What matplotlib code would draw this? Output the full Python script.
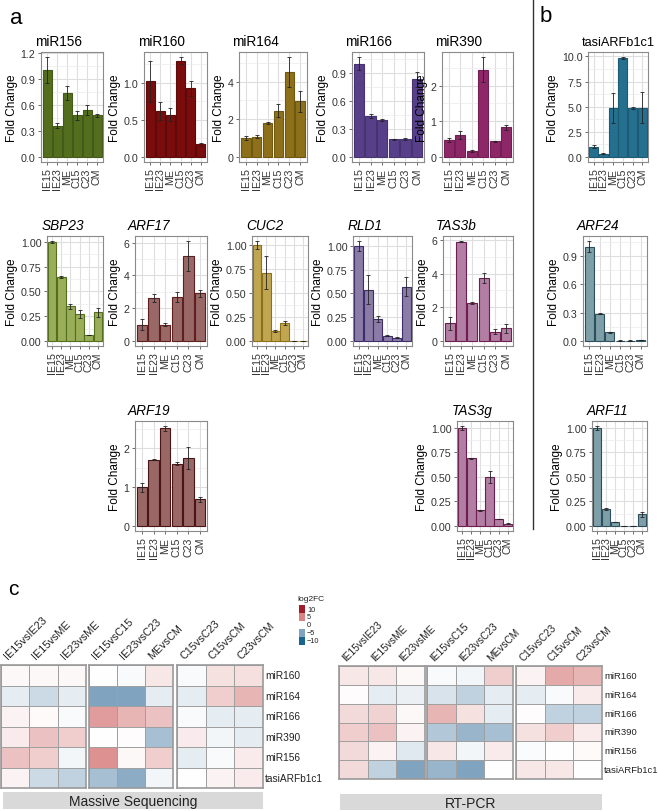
import numpy as np
import matplotlib
matplotlib.use('Agg')
import matplotlib.pyplot as plt
from matplotlib.colors import LinearSegmentedColormap, Normalize
from matplotlib.patches import Rectangle

plt.rcParams['font.family'] = ['Liberation Sans', 'DejaVu Sans']

W, H = 658, 812

# ---- panel a/b data: fold change (mean, error) per sample ----
samples = ['IE15', 'IE23', 'ME', 'C15', 'C23', 'CM']

mir156 = [1.00, 0.36, 0.74, 0.48, 0.54, 0.48]
mir156_err = [0.15, 0.03, 0.08, 0.05, 0.06, 0.02]
mir160 = [1.02, 0.62, 0.57, 1.30, 0.93, 0.17]
mir160_err = [0.28, 0.12, 0.09, 0.05, 0.10, 0.02]
mir164 = [1.00, 1.08, 1.80, 2.45, 4.50, 2.95]
mir164_err = [0.12, 0.06, 0.07, 0.35, 0.80, 0.55]
mir166 = [1.00, 0.44, 0.40, 0.19, 0.19, 0.83]
mir166_err = [0.07, 0.02, 0.01, 0.005, 0.01, 0.08]
mir390 = [0.48, 0.62, 0.17, 2.45, 0.44, 0.83]
mir390_err = [0.05, 0.12, 0.03, 0.35, 0.02, 0.08]
tasi = [1.00, 0.30, 4.90, 9.85, 4.90, 4.90]
tasi_err = [0.15, 0.05, 1.50, 0.10, 0.10, 1.55]
sbp23 = [1.00, 0.65, 0.35, 0.27, 0.06, 0.29]
sbp23_err = [0.01, 0.01, 0.025, 0.04, 0.003, 0.045]
arf17 = [1.00, 2.60, 1.00, 2.70, 5.20, 2.90]
arf17_err = [0.35, 0.25, 0.07, 0.30, 0.90, 0.20]
cuc2 = [1.00, 0.71, 0.10, 0.19, 0.004, 0.003]
cuc2_err = [0.04, 0.17, 0.01, 0.02, 0.001, 0.001]
rld1 = [1.00, 0.54, 0.23, 0.055, 0.035, 0.57]
rld1_err = [0.05, 0.15, 0.03, 0.005, 0.005, 0.10]
tas3b = [1.05, 5.90, 2.25, 3.75, 0.55, 0.75]
tas3b_err = [0.40, 0.03, 0.08, 0.30, 0.15, 0.25]
arf24 = [1.00, 0.29, 0.095, 0.005, 0.005, 0.01]
arf24_err = [0.06, 0.005, 0.005, 0.001, 0.001, 0.002]
arf19 = [1.00, 1.71, 2.52, 1.61, 1.76, 0.69]
arf19_err = [0.12, 0.02, 0.06, 0.04, 0.28, 0.07]
tas3g = [1.00, 0.69, 0.16, 0.50, 0.07, 0.025]
tas3g_err = [0.02, 0.003, 0.005, 0.06, 0.003, 0.005]
arf11 = [1.00, 0.17, 0.04, 0.003, 0.003, 0.12]
arf11_err = [0.02, 0.01, 0.002, 0.001, 0.001, 0.025]

# ---- panel c data: log2FC ----
comparisons = ['IE15vsIE23', 'IE15vsME', 'IE23vsME', 'IE15vsC15', 'IE23vsC23',
               'MEvsCM', 'C15vsC23', 'C15vsCM', 'C23vsCM']
small_rnas = ['miR160', 'miR164', 'miR166', 'miR390', 'miR156', 'tasiARFb1c1']
seq_fc = [
    [0.3, 0.3, 0.3, 0.0, -0.3, 1.0, -0.3, 1.2, 1.3],
    [-1.0, -2.0, -1.0, -5.0, -5.0, -1.0, -1.0, 2.0, 3.0],
    [0.5, 0.2, -0.3, 4.0, 3.0, 2.5, -0.3, -1.0, -1.0],
    [0.8, 2.5, 2.0, 0.0, 0.1, -3.5, 0.8, -0.5, -1.0],
    [2.5, 2.0, -0.5, 4.5, 0.3, 2.0, -1.0, -0.3, 0.8],
    [0.5, -2.0, -2.5, -3.5, -4.5, -0.5, 0.0, 0.5, 0.8],
]
pcr_fc = [
    [1.0, 1.0, 0.3, -0.3, -0.5, 2.0, 0.5, 3.5, 3.0],
    [0.1, -1.0, -0.8, -1.5, -2.5, -1.0, -1.0, -0.3, 0.8],
    [1.5, 1.8, 0.3, 3.0, 1.2, -1.0, 0.1, -2.5, -2.5],
    [2.0, 2.5, 0.5, -3.0, -4.0, -3.5, 1.2, 2.0, 0.8],
    [1.5, 0.5, -1.2, 1.0, -0.5, 0.8, -0.2, 0.0, 0.2],
    [1.5, -2.5, -5.0, -4.0, -5.0, 0.0, 1.0, 1.0, 0.0],
]
legend_vals = [10, 5, 0, -5, -10]


def px(x0, y0, x1, y1):
    return [x0 / W, 1 - y1 / H, (x1 - x0) / W, (y1 - y0) / H]


fig = plt.figure(figsize=(W / 100, H / 100), dpi=100)

# name, values, err, fill, edge, italic, box(px), tick step, label format
panels = [
    ('miR156', mir156, mir156_err, '#536f1e', '#44591a', False, (41, 53, 103, 163), 0.3, '%.1f'),
    ('miR160', mir160, mir160_err, '#7a0c0c', '#5e0a0a', False, (144, 53, 207, 163), 0.5, '%.1f'),
    ('miR164', mir164, mir164_err, '#8d7019', '#6f5812', False, (239, 53, 307, 163), 2, '%d'),
    ('miR166', mir166, mir166_err, '#574089', '#46336f', False, (352, 53, 424, 163), 0.3, '%.1f'),
    ('miR390', mir390, mir390_err, '#8e2768', '#721f53', False, (442, 53, 513, 163), 1, '%d'),
    ('tasiARFb1c1', tasi, tasi_err, '#25708f', '#1d5a73', False, (588, 53, 648, 163), 2.5, '%.1f'),
    ('SBP23', sbp23, sbp23_err, '#9aae5a', '#536f1e', True, (47, 237, 103, 347), 0.25, '%.2f'),
    ('ARF17', arf17, arf17_err, '#9a6767', '#5e1f1f', True, (135, 237, 207, 347), 2, '%d'),
    ('CUC2', cuc2, cuc2_err, '#c1a651', '#8d7019', True, (252, 237, 308, 347), 0.25, '%.2f'),
    ('RLD1', rld1, rld1_err, '#8a7ca7', '#3e2d6b', True, (353, 237, 412, 347), 0.25, '%.2f'),
    ('TAS3b', tas3b, tas3b_err, '#b27ea3', '#6e1f50', True, (443, 237, 513, 347), 2, '%d'),
    ('ARF24', arf24, arf24_err, '#7e9ea8', '#2b4f5c', True, (583, 237, 647, 347), 0.3, '%.1f'),
    ('ARF19', arf19, arf19_err, '#9a6767', '#4a1515', True, (135, 422, 207, 532), 1, '%d'),
    ('TAS3g', tas3g, tas3g_err, '#b27ea3', '#6e1f50', True, (457, 422, 513, 532), 0.25, '%.2f'),
    ('ARF11', arf11, arf11_err, '#7e9ea8', '#2b4f5c', True, (592, 422, 647, 532), 0.25, '%.2f'),
]

x = np.arange(len(samples))
for name, vals, err, fill, edge, ital, box, step, fmt in panels:
    ax = fig.add_axes(px(*box))
    vals = np.array(vals)
    err = np.array(err)
    top = (vals + err).max()
    ax.set_ylim(-0.05 * top, top * 1.05)
    ax.set_xlim(-0.6, len(samples) - 0.4)
    ticks = np.arange(0, top * 1.05 + 1e-9, step)
    ax.set_yticks(ticks)
    ax.set_yticklabels([fmt % t for t in ticks])
    minor = np.arange(step / 2, top * 1.05, step)
    ax.set_yticks(minor, minor=True)
    ax.set_xticks(x)
    ax.set_xticklabels(samples, rotation=90)
    ax.set_axisbelow(True)
    ax.grid(True, which='major', color='#dedede', lw=0.8)
    ax.grid(True, which='minor', axis='y', color='#ececec', lw=0.5)
    ax.bar(x, vals, width=0.9, color=fill, edgecolor=edge, lw=0.8, zorder=2)
    ax.errorbar(x, vals, yerr=err, fmt='none', ecolor='#222222', elinewidth=0.6,
                capsize=1.2, capthick=0.6, zorder=3)
    for s in ax.spines.values():
        s.set_color('#8a8a8a')
        s.set_linewidth(0.8)
    ax.tick_params(axis='both', which='major', labelsize=7.7, colors='#333333',
                   length=2.5, width=0.6, pad=1.5)
    ax.tick_params(axis='both', which='minor', length=0)
    ax.tick_params(axis='both', which='major', color='#555555')
    ax.set_ylabel('Fold Change', fontsize=8.5, labelpad=2)
    if len(name) > 8:
        ax.set_title(name, fontsize=9.2, loc='left', x=-0.11, pad=5)
    else:
        ax.set_title(name, fontsize=9.8, loc='left', x=-0.1, pad=5,
                     style='italic' if ital else 'normal')

# panel letters and divider
fig.text(10 / W, 1 - 18 / H, 'a', fontsize=16, va='center')
fig.text(540 / W, 1 - 17 / H, 'b', fontsize=16, va='center')
fig.text(8 / W, 1 - 590 / H, 'c', fontsize=15, va='center')
fig.add_artist(plt.Line2D([533 / W, 533 / W], [1 - 0 / H, 1 - 530 / H],
                          color='#333333', lw=1.0))

# ---- panel c heatmaps ----
cmap = LinearSegmentedColormap.from_list(
    'fc', [(0, '#1a6490'), (0.25, '#7fa3bf'), (0.5, '#ffffff'),
           (0.75, '#d98585'), (1, '#a01d2a')])
norm = Normalize(-10, 10)


def heatmap(data, groups, y0, y1, strip_text, strip_box, fs):
    data = np.array(data)
    n_rows = data.shape[0]
    for gi, (gx0, gx1) in enumerate(groups):
        cols = list(range(gi * 3, gi * 3 + 3))
        ax = fig.add_axes(px(gx0, y0, gx1, y1))
        ax.pcolormesh(np.arange(4), np.arange(n_rows + 1), data[:, cols], cmap=cmap,
                      norm=norm, edgecolors='#a0a0a0', linewidth=0.7)
        ax.set_xlim(0, 3)
        ax.set_ylim(n_rows, 0)
        ax.set_xticks([])
        ax.set_yticks([])
        for s in ax.spines.values():
            s.set_color('#9a9a9a')
            s.set_linewidth(1.2)
        for j, c in enumerate(cols):
            ax.text(j + 0.3, -0.2, comparisons[c], rotation=45, rotation_mode='anchor',
                    ha='left', va='bottom', fontsize=fs, color='#222222')
        if gi == len(groups) - 1:
            for i, r in enumerate(small_rnas):
                ax.text(3.08, i + 0.5, r, ha='left', va='center', fontsize=fs - 0.5,
                        color='#222222')
    sx0, sy0, sx1, sy1 = strip_box
    sax = fig.add_axes(px(sx0, sy0, sx1, sy1))
    sax.set_facecolor('#d9d9d9')
    sax.set_xticks([])
    sax.set_yticks([])
    for s in sax.spines.values():
        s.set_visible(False)
    sax.text(0.5, 0.45, strip_text, ha='center', va='center', fontsize=10,
             transform=sax.transAxes, color='#222222')


heatmap(seq_fc, [(1, 86), (89, 173), (177, 263)], 666, 789,
        'Massive Sequencing', (3, 793, 263, 810), 7.8)
heatmap(pcr_fc, [(339, 425), (427, 513), (516, 602)], 667, 780,
        'RT-PCR', (340, 795, 602, 811), 7.3)

# legend
fig.text(297 / W, 1 - 600 / H, 'log2FC', fontsize=6, va='center', color='#222222')
for k, v in enumerate(legend_vals):
    yb = 606 + k * 8
    fig.add_artist(Rectangle((299 / W, 1 - (yb + 8) / H), 6 / W, 8 / H,
                             facecolor=cmap(norm(v)), edgecolor='none',
                             transform=fig.transFigure))
    fig.text(307 / W, 1 - (yb + 4) / H, ('%d' % v).replace('-', '\u2212'),
             fontsize=5.3, va='center', color='#222222')

fig.savefig('out.png', dpi=100)
